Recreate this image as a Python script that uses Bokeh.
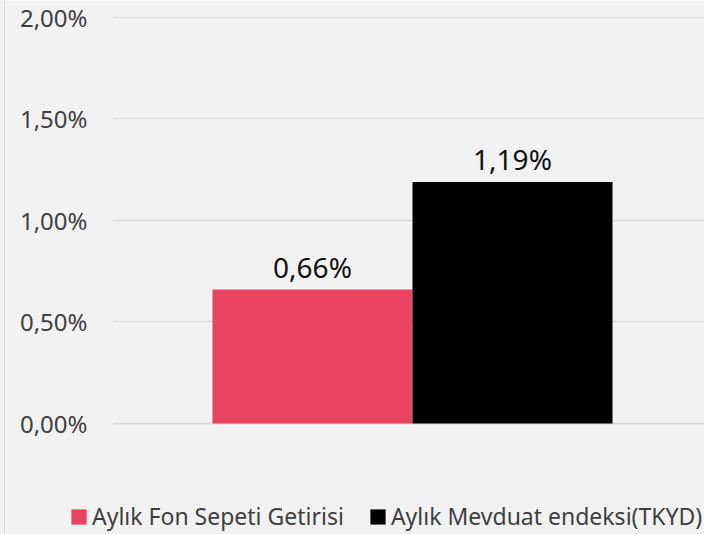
from bokeh.plotting import figure
from bokeh.models import Range1d, FixedTicker, Legend, LegendItem, ColumnDataSource, LabelSet
from bokeh.core.properties import value
from bokeh.embed import file_html
from bokeh.resources import INLINE

series_names = ["Aylık Fon Sepeti Getirisi", "Aylık Mevduat endeksi(TKYD)"]
series_values = [0.66, 1.19]
series_labels = ["0,66%", "1,19%"]
series_colors = ["#e84361", "#000000"]
y_ticks = [0.0, 0.5, 1.0, 1.5, 2.0]
y_tick_labels = ["0,00%", "0,50%", "1,00%", "1,50%", "2,00%"]

FONT = "Noto Sans"

p = figure(width=700, height=534, output_backend="svg", toolbar_location=None,
           x_range=Range1d(-1.535, 1.965), y_range=Range1d(-0.5468, 2.0837),
           x_axis_location=None, min_border_left=0, min_border_right=0,
           min_border_top=0, min_border_bottom=0)
p.styles = {"margin-left": "4px", "border-left": "1px solid #d9d9d9",
            "box-shadow": "-4px 0 0 0 #f2f2f2"}
p.background_fill_color = "#f2f2f2"
p.border_fill_color = "#f2f2f2"
p.outline_line_color = None
p.grid.visible = False

ax = p.yaxis[0]
ax.fixed_location = -1.0
ax.level = "underlay"
ax.ticker = FixedTicker(ticks=y_ticks)
ax.major_label_overrides = dict(zip(y_ticks, y_tick_labels))
ax.axis_line_color = None
ax.minor_tick_line_color = None
ax.major_tick_in = 600
ax.major_tick_out = 0
ax.major_tick_line_color = "#d9d9d9"
ax.major_tick_line_width = 1.5
ax.major_label_standoff = 25
ax.major_label_text_font = FONT
ax.major_label_text_font_size = "24px"
ax.major_label_text_color = "#404040"

src = ColumnDataSource(dict(x=list(range(len(series_values))), top=series_values,
                            color=series_colors, label=series_labels, name=series_names))
bars = p.vbar(x="x", top="top", width=1.0, color="color", line_color=None, source=src)
labels = LabelSet(x="x", y="top", text="label", source=src, text_align="center",
                  text_baseline="alphabetic", y_offset=12, text_font=value(FONT),
                  text_font_size="28px", text_color="#111111")
p.add_layout(labels)

items = [LegendItem(label=series_names[i], renderers=[bars], index=i) for i in range(len(series_names))]
legend = Legend(items=items, orientation="horizontal", location=(64, 2),
                glyph_width=19, glyph_height=19, label_standoff=4, spacing=24,
                padding=0, margin=0, border_line_color=None, background_fill_alpha=0,
                label_text_font=FONT, label_text_font_size="23px",
                label_text_color="#404040", label_height=15)
p.add_layout(legend, "center")

open("out.html", "w").write(file_html(p, INLINE))
